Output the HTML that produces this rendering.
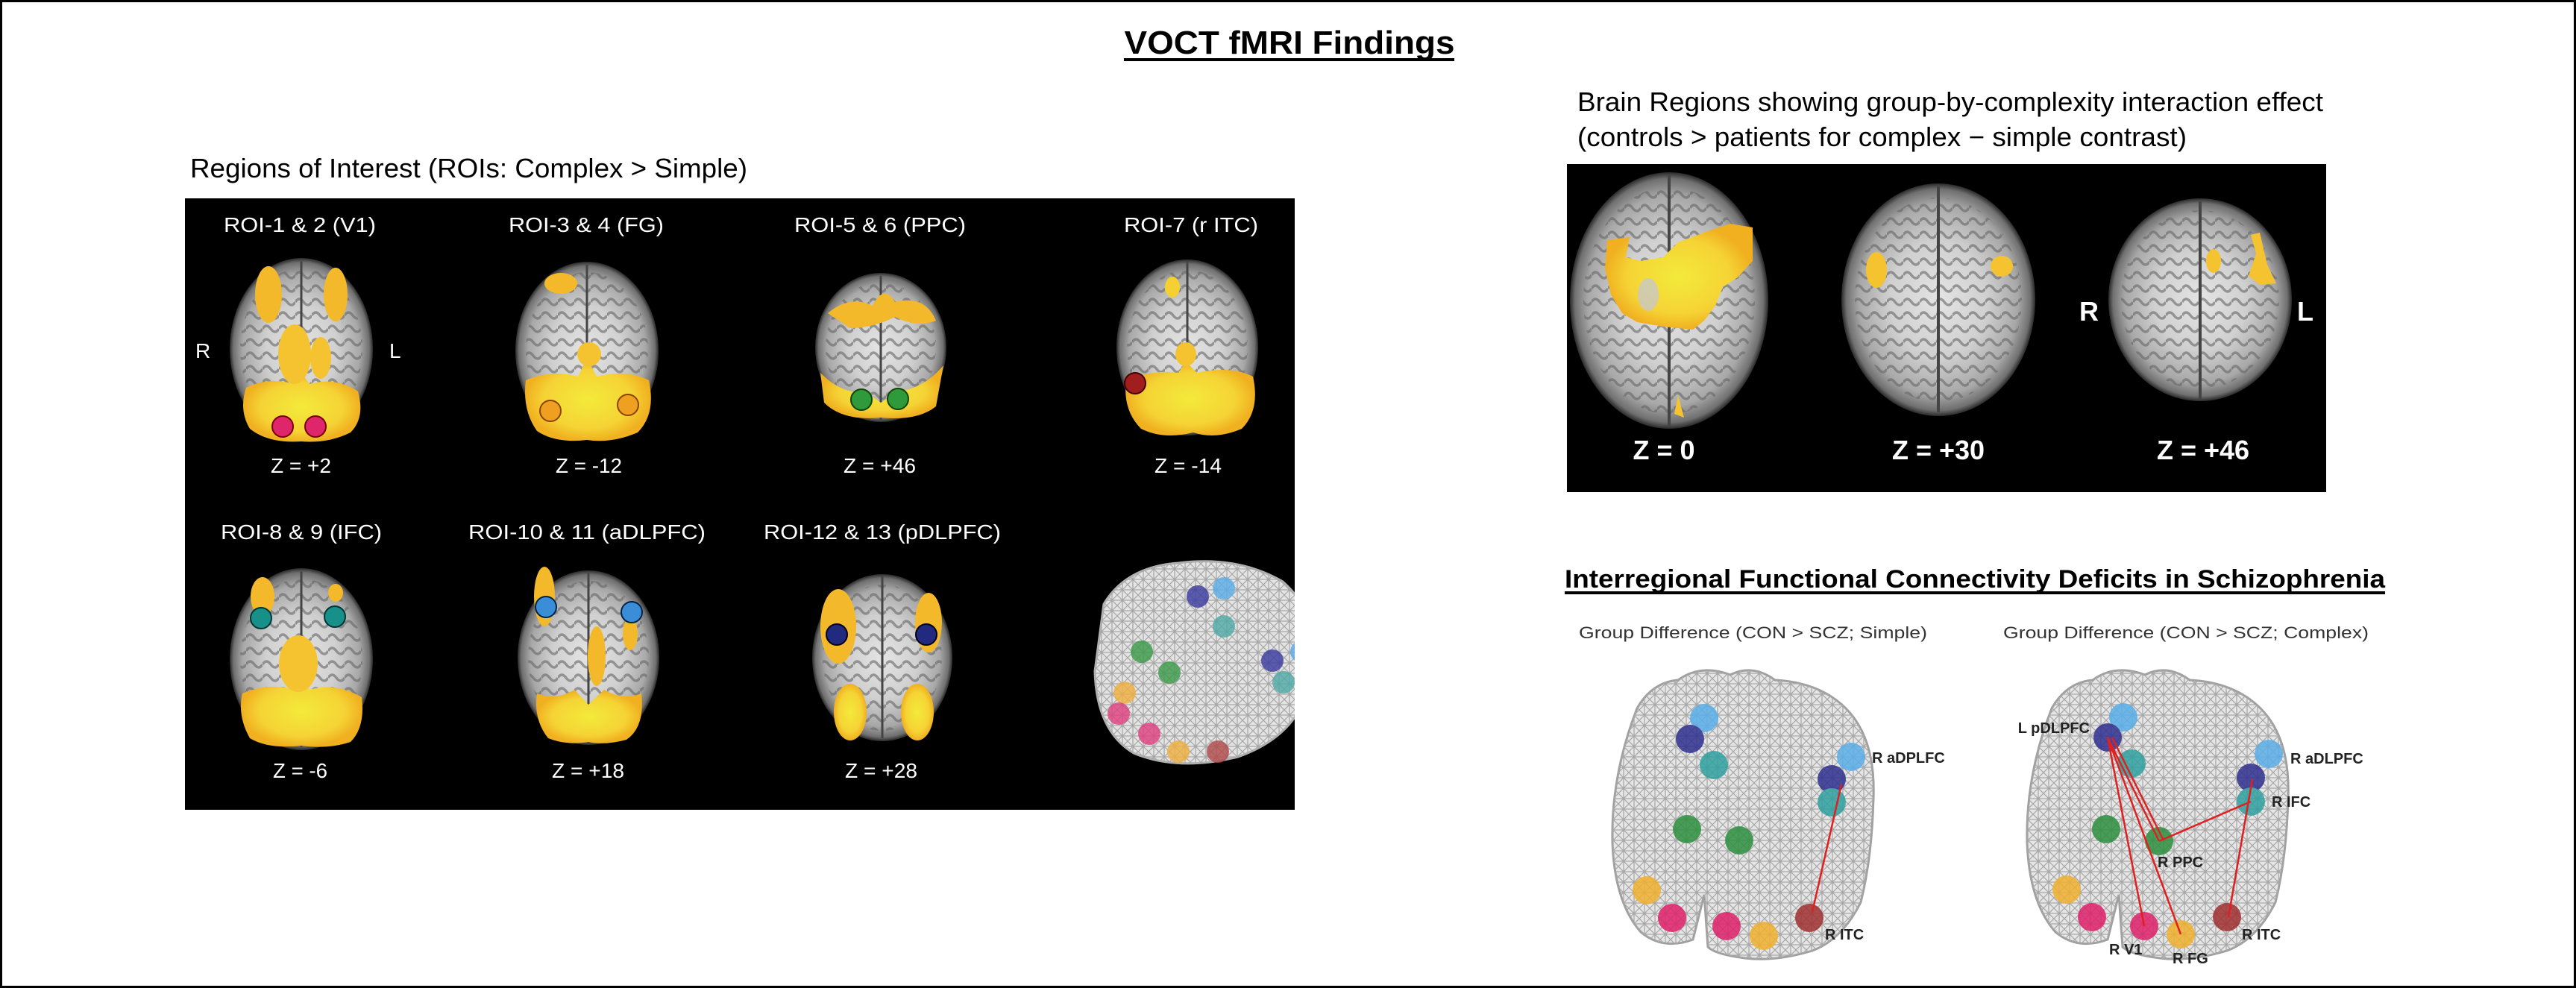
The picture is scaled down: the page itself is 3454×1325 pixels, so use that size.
<!DOCTYPE html>
<html><head><meta charset="utf-8"><style>html,body{margin:0;padding:0;background:#fff}svg{display:block}</style></head>
<body>
<svg width="3454" height="1325" viewBox="0 0 3454 1325" xmlns="http://www.w3.org/2000/svg" font-family="'Liberation Sans', Arial, sans-serif">
<defs>
<radialGradient id="br" cx="50%" cy="50%" r="50%">
<stop offset="0" stop-color="#e4e4e4"/><stop offset="0.5" stop-color="#d0d0d0"/><stop offset="0.82" stop-color="#a8a8a8"/><stop offset="0.95" stop-color="#707070"/><stop offset="1" stop-color="#2a2a2a"/>
</radialGradient>
<radialGradient id="yl" cx="50%" cy="50%" r="50%">
<stop offset="0" stop-color="#f4ea3a"/><stop offset="0.7" stop-color="#f5d335"/><stop offset="1" stop-color="#f0b020"/>
</radialGradient>
<pattern id="gyri" width="22" height="18" patternUnits="userSpaceOnUse">
<path d="M0 9 Q5 1 11 9 T22 9" fill="none" stroke="#666" stroke-width="3.5" opacity="0.6"/>
</pattern>
<pattern id="mesh" width="14" height="14" patternUnits="userSpaceOnUse">
<path d="M0 0L14 14M14 0L0 14M0 7H14M7 0V14" stroke="#a8a8a8" stroke-width="1.3" fill="none"/>
</pattern>
<clipPath id="lp"><rect x="248" y="266" width="1488" height="820"/></clipPath>
</defs>
<rect x="1.5" y="1.5" width="3451" height="1322" fill="#fff" stroke="#000" stroke-width="3"/>

<text x="1729" y="72" font-size="44" font-weight="bold" text-anchor="middle" textLength="443" lengthAdjust="spacingAndGlyphs">VOCT fMRI Findings</text>
<rect x="1507" y="78" width="443" height="4" fill="#000"/>

<text x="255" y="238" font-size="36" textLength="747" lengthAdjust="spacingAndGlyphs">Regions of Interest (ROIs: Complex &gt; Simple)</text>
<rect x="248" y="266" width="1488" height="820" fill="#000"/>
<g clip-path="url(#lp)">
<g font-size="28" fill="#fff">
<text x="300" y="311" textLength="204" lengthAdjust="spacingAndGlyphs">ROI-1 &amp; 2 (V1)</text>
<text x="682" y="311" textLength="208" lengthAdjust="spacingAndGlyphs">ROI-3 &amp; 4 (FG)</text>
<text x="1065" y="311" textLength="230" lengthAdjust="spacingAndGlyphs">ROI-5 &amp; 6 (PPC)</text>
<text x="1507" y="311" textLength="180" lengthAdjust="spacingAndGlyphs">ROI-7 (r ITC)</text>
<text x="296" y="723" textLength="216" lengthAdjust="spacingAndGlyphs">ROI-8 &amp; 9 (IFC)</text>
<text x="628" y="723" textLength="318" lengthAdjust="spacingAndGlyphs">ROI-10 &amp; 11 (aDLPFC)</text>
<text x="1024" y="723" textLength="318" lengthAdjust="spacingAndGlyphs">ROI-12 &amp; 13 (pDLPFC)</text>
<text x="363" y="634" textLength="81" lengthAdjust="spacingAndGlyphs">Z = +2</text>
<text x="745" y="634" textLength="89" lengthAdjust="spacingAndGlyphs">Z = -12</text>
<text x="1131" y="634" textLength="97" lengthAdjust="spacingAndGlyphs">Z = +46</text>
<text x="1548" y="634" textLength="90" lengthAdjust="spacingAndGlyphs">Z = -14</text>
<text x="366" y="1043" textLength="73" lengthAdjust="spacingAndGlyphs">Z = -6</text>
<text x="740" y="1043" textLength="97" lengthAdjust="spacingAndGlyphs">Z = +18</text>
<text x="1133" y="1043" textLength="97" lengthAdjust="spacingAndGlyphs">Z = +28</text>
<text x="262" y="480">R</text>
<text x="522" y="480">L</text>
</g>
<g>
<ellipse cx="404" cy="468" rx="96" ry="122" fill="url(#br)"/><ellipse cx="404" cy="468" rx="82" ry="108" fill="url(#gyri)"/>
<line x1="404" y1="350" x2="404" y2="586" stroke="#444" stroke-width="3"/>
<path d="M330 520 Q360 505 395 515 L404 500 L415 515 Q450 505 480 525 Q490 560 470 580 Q440 595 404 592 Q360 595 335 575 Q320 550 330 520 Z" fill="url(#yl)"/>
<ellipse cx="360" cy="395" rx="18" ry="38" fill="#f3b92a"/><ellipse cx="450" cy="395" rx="16" ry="36" fill="#f3b92a"/>
<ellipse cx="395" cy="475" rx="22" ry="40" fill="#f5c330"/><ellipse cx="430" cy="480" rx="14" ry="28" fill="#f5c330"/>
<circle cx="379" cy="572" r="14" fill="#e0266a" stroke="#700" stroke-width="2"/><circle cx="423" cy="572" r="14" fill="#e0266a" stroke="#700" stroke-width="2"/>

<ellipse cx="787" cy="470" rx="96" ry="119" fill="url(#br)"/><ellipse cx="787" cy="470" rx="82" ry="105" fill="url(#gyri)"/>
<line x1="787" y1="355" x2="787" y2="585" stroke="#444" stroke-width="3"/>
<path d="M705 510 Q740 495 775 505 L787 480 L800 505 Q840 495 870 510 Q880 555 855 580 Q820 595 787 590 Q745 595 720 578 Q700 550 705 510 Z" fill="url(#yl)"/>
<ellipse cx="752" cy="380" rx="22" ry="14" fill="#f3b92a"/><ellipse cx="790" cy="475" rx="16" ry="16" fill="#f5c330"/>
<circle cx="738" cy="551" r="14" fill="#f0a020" stroke="#840" stroke-width="2"/><circle cx="842" cy="543" r="14" fill="#f0a020" stroke="#840" stroke-width="2"/>

<ellipse cx="1181" cy="466" rx="88" ry="100" fill="url(#br)"/><ellipse cx="1181" cy="466" rx="74" ry="88" fill="url(#gyri)"/>
<line x1="1181" y1="370" x2="1181" y2="563" stroke="#444" stroke-width="3"/>
<path d="M1110 420 Q1140 395 1170 410 Q1185 380 1200 405 Q1240 395 1255 430 Q1230 440 1200 425 Q1170 440 1140 440 Z" fill="#f3b92a"/>
<path d="M1100 500 Q1130 530 1160 525 L1181 540 L1205 525 Q1240 520 1265 490 L1255 545 Q1230 565 1181 560 Q1130 565 1105 540 Z" fill="url(#yl)"/>
<circle cx="1155" cy="536" r="14" fill="#2e9a3c" stroke="#140" stroke-width="2"/><circle cx="1204" cy="535" r="14" fill="#2e9a3c" stroke="#140" stroke-width="2"/>

<ellipse cx="1592" cy="466" rx="95" ry="118" fill="url(#br)"/><ellipse cx="1592" cy="466" rx="81" ry="104" fill="url(#gyri)"/>
<line x1="1592" y1="350" x2="1592" y2="582" stroke="#444" stroke-width="3"/>
<path d="M1510 510 Q1550 495 1580 500 L1590 485 L1605 500 Q1650 490 1680 505 Q1690 550 1665 575 Q1630 590 1600 580 Q1560 590 1530 575 Q1505 550 1510 510 Z" fill="url(#yl)"/>
<ellipse cx="1572" cy="385" rx="10" ry="14" fill="#f5d030"/><ellipse cx="1590" cy="475" rx="14" ry="16" fill="#f5c330"/>
<circle cx="1522" cy="514" r="14" fill="#a01e1e" stroke="#400" stroke-width="2"/>
</g>
<g>
<ellipse cx="404" cy="884" rx="96" ry="122" fill="url(#br)"/><ellipse cx="404" cy="884" rx="82" ry="108" fill="url(#gyri)"/>
<line x1="404" y1="766" x2="404" y2="1002" stroke="#444" stroke-width="3"/>
<path d="M325 930 Q360 915 395 925 L404 905 L415 925 Q450 915 485 935 Q490 975 470 995 Q440 1005 404 1000 Q360 1005 335 990 Q318 960 325 930 Z" fill="url(#yl)"/>
<ellipse cx="352" cy="800" rx="16" ry="26" fill="#f3b92a"/><ellipse cx="450" cy="795" rx="10" ry="12" fill="#f3b92a"/>
<ellipse cx="400" cy="890" rx="26" ry="38" fill="#f5c330"/>
<circle cx="350" cy="829" r="14" fill="#17908a" stroke="#033" stroke-width="2"/><circle cx="449" cy="827" r="14" fill="#17908a" stroke="#033" stroke-width="2"/>

<ellipse cx="789" cy="882" rx="95" ry="117" fill="url(#br)"/><ellipse cx="789" cy="882" rx="81" ry="103" fill="url(#gyri)"/>
<line x1="789" y1="768" x2="789" y2="996" stroke="#444" stroke-width="3"/>
<path d="M720 930 Q745 940 770 925 L789 945 L810 925 Q835 940 860 930 Q865 975 840 992 Q810 1000 789 995 Q760 1000 735 990 Q715 965 720 930 Z" fill="url(#yl)"/>
<ellipse cx="730" cy="800" rx="14" ry="40" fill="#f3b92a"/><ellipse cx="800" cy="880" rx="12" ry="40" fill="#f3b92a"/>
<ellipse cx="845" cy="850" rx="10" ry="22" fill="#f3b92a"/>
<circle cx="732" cy="814" r="14" fill="#3a8ed8" stroke="#024" stroke-width="2"/><circle cx="847" cy="821" r="14" fill="#3a8ed8" stroke="#024" stroke-width="2"/>

<ellipse cx="1183" cy="882" rx="94" ry="112" fill="url(#br)"/><ellipse cx="1183" cy="882" rx="80" ry="98" fill="url(#gyri)"/>
<line x1="1183" y1="772" x2="1183" y2="990" stroke="#444" stroke-width="3"/>
<ellipse cx="1124" cy="840" rx="24" ry="50" fill="#f3b92a"/><ellipse cx="1245" cy="835" rx="18" ry="40" fill="#f3b92a"/>
<ellipse cx="1140" cy="955" rx="22" ry="38" fill="url(#yl)"/><ellipse cx="1230" cy="955" rx="22" ry="38" fill="url(#yl)"/>
<circle cx="1122" cy="851" r="14" fill="#222a80" stroke="#001" stroke-width="2"/><circle cx="1242" cy="851" r="14" fill="#222a80" stroke="#001" stroke-width="2"/>
</g>
<g>
<path d="M1480 810 Q1510 760 1580 755 Q1660 745 1720 780 Q1765 820 1762 880 L1740 910 L1750 935 Q1730 990 1660 1015 Q1580 1035 1520 1010 Q1470 980 1468 900 Z" fill="#e4e4e4" stroke="#b0b0b0" stroke-width="3"/>
<path d="M1480 810 Q1510 760 1580 755 Q1660 745 1720 780 Q1765 820 1762 880 L1740 910 L1750 935 Q1730 990 1660 1015 Q1580 1035 1520 1010 Q1470 980 1468 900 Z" fill="url(#mesh)"/>
<g opacity="0.8">
<circle cx="1606" cy="800" r="15" fill="#3a3aa0"/><circle cx="1641" cy="789" r="15" fill="#5aaee8"/>
<circle cx="1641" cy="840" r="15" fill="#50aaa8"/><circle cx="1531" cy="874" r="15" fill="#3a9a48"/>
<circle cx="1568" cy="902" r="15" fill="#3a9a48"/><circle cx="1706" cy="886" r="15" fill="#3a3aa0"/>
<circle cx="1745" cy="874" r="15" fill="#5aaee8"/><circle cx="1721" cy="915" r="15" fill="#50aaa8"/>
<circle cx="1508" cy="929" r="15" fill="#f0b040"/><circle cx="1500" cy="957" r="15" fill="#e04080"/>
<circle cx="1541" cy="984" r="15" fill="#e04080"/><circle cx="1580" cy="1008" r="15" fill="#f0b040"/>
<circle cx="1633" cy="1008" r="15" fill="#b04848"/>
</g>
</g>
</g>

<text x="2115" y="149" font-size="36" textLength="1000" lengthAdjust="spacingAndGlyphs">Brain Regions showing group-by-complexity interaction effect</text>
<text x="2115" y="196" font-size="36" textLength="817" lengthAdjust="spacingAndGlyphs">(controls &gt; patients for complex − simple contrast)</text>
<rect x="2101" y="220" width="1018" height="440" fill="#000"/>
<ellipse cx="2238" cy="403" rx="133" ry="172" fill="url(#br)"/><ellipse cx="2238" cy="403" rx="115" ry="152" fill="url(#gyri)"/>
<line x1="2238" y1="235" x2="2238" y2="572" stroke="#444" stroke-width="4"/>
<path d="M2155 322 L2185 318 L2180 345 L2200 350 L2230 345 L2250 325 L2290 310 L2320 300 L2350 305 L2350 350 L2330 372 L2310 385 L2300 410 L2285 430 L2270 442 L2230 438 L2195 432 L2175 420 L2160 395 L2152 360 Z" fill="url(#yl)"/>
<ellipse cx="2210" cy="395" rx="14" ry="22" fill="#c8c8c8" opacity="0.8"/>
<path d="M2245 555 L2250 530 L2258 560 Z" fill="#f5c330"/>
<ellipse cx="2599" cy="402" rx="130" ry="156" fill="url(#br)"/><ellipse cx="2599" cy="402" rx="112" ry="137" fill="url(#gyri)"/>
<line x1="2599" y1="250" x2="2599" y2="553" stroke="#444" stroke-width="4"/>
<ellipse cx="2516" cy="362" rx="14" ry="24" fill="#f5c330"/><ellipse cx="2684" cy="357" rx="15" ry="14" fill="#f5c330"/>
<ellipse cx="2950" cy="402" rx="123" ry="136" fill="url(#br)"/><ellipse cx="2950" cy="402" rx="106" ry="120" fill="url(#gyri)"/>
<line x1="2950" y1="270" x2="2950" y2="535" stroke="#444" stroke-width="4"/>
<ellipse cx="2968" cy="350" rx="10" ry="16" fill="#f5c330"/><path d="M3018 315 L3030 312 L3040 355 L3052 380 L3030 382 L3015 370 L3025 340 Z" fill="#f5c330"/>
<g fill="#fff" font-weight="bold" font-size="36">
<text x="2231" y="616" text-anchor="middle">Z = 0</text>
<text x="2599" y="616" text-anchor="middle">Z = +30</text>
<text x="2954" y="616" text-anchor="middle">Z = +46</text>
<text x="2788" y="430">R</text>
<text x="3080" y="430">L</text>
</g>

<text x="2098" y="788" font-size="34" font-weight="bold" textLength="1100" lengthAdjust="spacingAndGlyphs">Interregional Functional Connectivity Deficits in Schizophrenia</text>
<rect x="2098" y="793" width="1100" height="4" fill="#000"/>
<text x="2117" y="856" font-size="22" fill="#333" textLength="467" lengthAdjust="spacingAndGlyphs">Group Difference (CON &gt; SCZ; Simple)</text>
<text x="2686" y="856" font-size="22" fill="#333" textLength="490" lengthAdjust="spacingAndGlyphs">Group Difference (CON &gt; SCZ; Complex)</text>

<g>
<path id="wbp" d="M2195 950 Q2215 915 2250 912 Q2280 890 2320 905 Q2350 890 2380 912 Q2440 915 2475 950 Q2515 990 2512 1070 Q2510 1150 2495 1210 Q2470 1260 2430 1275 Q2380 1290 2340 1285 Q2300 1280 2290 1270 L2285 1200 L2270 1260 Q2230 1275 2200 1250 Q2165 1210 2162 1130 Q2160 1040 2195 950 Z" fill="#e6e6e6" stroke="#a0a0a0" stroke-width="3"/>
</g>
<path d="M2195 950 Q2215 915 2250 912 Q2280 890 2320 905 Q2350 890 2380 912 Q2440 915 2475 950 Q2515 990 2512 1070 Q2510 1150 2495 1210 Q2470 1260 2430 1275 Q2380 1290 2340 1285 Q2300 1280 2290 1270 L2285 1200 L2270 1260 Q2230 1275 2200 1250 Q2165 1210 2162 1130 Q2160 1040 2195 950 Z" fill="url(#mesh)"/>
<g transform="translate(556,0)">
<use href="#wbp"/>
<path d="M2195 950 Q2215 915 2250 912 Q2280 890 2320 905 Q2350 890 2380 912 Q2440 915 2475 950 Q2515 990 2512 1070 Q2510 1150 2495 1210 Q2470 1260 2430 1275 Q2380 1290 2340 1285 Q2300 1280 2290 1270 L2285 1200 L2270 1260 Q2230 1275 2200 1250 Q2165 1210 2162 1130 Q2160 1040 2195 950 Z" fill="url(#mesh)"/>
</g>
<g opacity="0.85">
<circle cx="2285" cy="963" r="19" fill="#5aaee8"/><circle cx="2266" cy="991" r="19" fill="#303090"/>
<circle cx="2298" cy="1026" r="19" fill="#30a0a0"/><circle cx="2482" cy="1015" r="19" fill="#5aaee8"/>
<circle cx="2456" cy="1045" r="19" fill="#303090"/><circle cx="2456" cy="1076" r="19" fill="#30a0a0"/>
<circle cx="2262" cy="1112" r="19" fill="#2e9040"/><circle cx="2332" cy="1127" r="19" fill="#2e9040"/>
<circle cx="2208" cy="1194" r="19" fill="#f0b030"/><circle cx="2242" cy="1231" r="19" fill="#e0206a"/>
<circle cx="2315" cy="1242" r="19" fill="#e0206a"/><circle cx="2365" cy="1255" r="19" fill="#f0b030"/>
<circle cx="2426" cy="1231" r="19" fill="#a03030"/>

<circle cx="2847" cy="962" r="19" fill="#5aaee8"/><circle cx="2826" cy="989" r="19" fill="#303090"/>
<circle cx="2858" cy="1024" r="19" fill="#30a0a0"/><circle cx="3042" cy="1011" r="19" fill="#5aaee8"/>
<circle cx="3018" cy="1043" r="19" fill="#303090"/><circle cx="3018" cy="1075" r="19" fill="#30a0a0"/>
<circle cx="2824" cy="1112" r="19" fill="#2e9040"/><circle cx="2895" cy="1128" r="19" fill="#2e9040"/>
<circle cx="2771" cy="1193" r="19" fill="#f0b030"/><circle cx="2805" cy="1230" r="19" fill="#e0206a"/>
<circle cx="2875" cy="1242" r="19" fill="#e0206a"/><circle cx="2924" cy="1253" r="19" fill="#f0b030"/>
<circle cx="2986" cy="1230" r="19" fill="#a03030"/>
</g>
<g stroke="#e02020" stroke-width="2.5" fill="none">
<line x1="2469" y1="1052" x2="2430" y2="1223"/>
<line x1="2826" y1="989" x2="2875" y2="1242"/>
<line x1="2826" y1="989" x2="2924" y2="1253"/>
<line x1="2826" y1="989" x2="2895" y2="1128"/>
<line x1="2832" y1="989" x2="2900" y2="1125"/>
<line x1="2895" y1="1128" x2="3018" y2="1075"/>
<line x1="3020" y1="1045" x2="2988" y2="1230"/>
</g>
<g font-size="20" font-weight="bold" fill="#222">
<text x="2510" y="1023">R aDPLFC</text>
<text x="2447" y="1260">R ITC</text>
<text x="2802" y="983" text-anchor="end">L pDLPFC</text>
<text x="3071" y="1024">R aDLPFC</text>
<text x="3046" y="1082">R IFC</text>
<text x="2893" y="1163">R PPC</text>
<text x="2828" y="1280">R V1</text>
<text x="2913" y="1292">R FG</text>
<text x="3006" y="1260">R ITC</text>
</g>
</svg>
</body></html>
